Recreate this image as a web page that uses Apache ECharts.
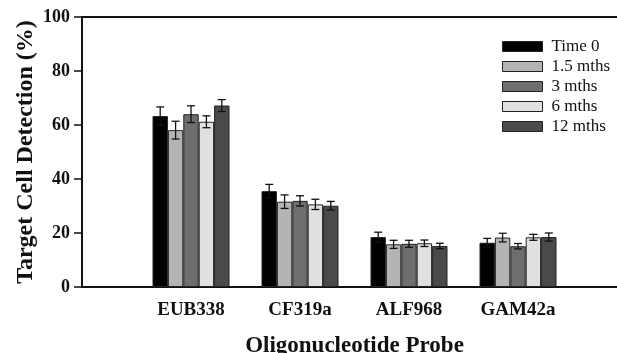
<!DOCTYPE html>
<html><head><meta charset="utf-8">
<script src="https://cdn.jsdelivr.net/npm/echarts@6/dist/echarts.min.js"></script>
<style>html,body{margin:0;padding:0;background:#fff}#c{width:617px;height:353px}</style>
</head><body><div id="c"></div>
<script>
var categories = ['', 'EUB338', 'CF319a', 'ALF968', 'GAM42a', ''];
var seriesNames = ['Time 0', '1.5 mths', '3 mths', '6 mths', '12 mths'];
var time0 = [63.3, 35.5, 18.5, 16.4];
var m1_5 = [58.1, 31.6, 15.8, 18.3];
var m3 = [64.0, 31.9, 16.0, 15.1];
var m6 = [61.2, 30.6, 16.2, 18.4];
var m12 = [67.2, 30.1, 15.2, 18.5];
var err0 = [3.4, 2.5, 1.8, 1.6];
var err1_5 = [3.3, 2.5, 1.5, 1.6];
var err3 = [3.1, 1.9, 1.3, 1.0];
var err6 = [2.2, 1.9, 1.2, 1.1];
var err12 = [2.2, 1.6, 1.0, 1.5];
var yTicks = [0, 20, 40, 60, 80, 100];

var values = [time0, m1_5, m3, m6, m12];
var errs = [err0, err1_5, err3, err6, err12];
var colors = ['#000000', '#b4b4b4', '#6e6e6e', '#e0e0e0', '#4a4a4a'];
var FONT = '"Liberation Serif", "Times New Roman", serif';
var BW = 15.4;

var series = [];
values.forEach(function (v, i) {
  series.push({
    name: seriesNames[i], type: 'bar', barWidth: BW, barGap: '0%',
    itemStyle: { color: colors[i], borderColor: '#222', borderWidth: 1 },
    data: [null].concat(v).concat([null])
  });
});
values.forEach(function (v, i) {
  var d = v.map(function (val, k) { return [k + 1, val, errs[i][k]]; });
  series.push({
    type: 'custom', name: seriesNames[i] + ' err', z: 10,
    renderItem: function (params, api) {
      var x = api.value(0), y = api.value(1), e = api.value(2);
      var top = api.coord([x, y + e]);
      var bot = api.coord([x, y - e]);
      var cx = top[0] + (i - 2) * BW;
      var cap = 4;
      var st = { stroke: '#111', lineWidth: 1.3 };
      return { type: 'group', children: [
        { type: 'line', shape: { x1: cx, y1: top[1], x2: cx, y2: bot[1] }, style: st },
        { type: 'line', shape: { x1: cx - cap, y1: top[1], x2: cx + cap, y2: top[1] }, style: st },
        { type: 'line', shape: { x1: cx - cap, y1: bot[1], x2: cx + cap, y2: bot[1] }, style: st }
      ]};
    },
    data: d
  });
});

var chart = echarts.init(document.getElementById('c'), null, { renderer: 'canvas' });
chart.setOption({
  animation: false,
  backgroundColor: '#fff',
  grid: { left: 82, top: 17, width: 545, bottom: 66, outerBoundsMode: 'none', containLabel: false,
    show: true, borderColor: '#111', borderWidth: 2, backgroundColor: 'transparent' },
  legend: {
    data: seriesNames, orient: 'vertical', left: 497, top: 33,
    itemWidth: 40, itemHeight: 10, itemGap: 3,
    icon: 'rect',
    itemStyle: { borderColor: '#222', borderWidth: 1 },
    textStyle: { fontFamily: FONT, fontSize: 17, color: '#111', padding: [0, 0, 0, 4] }
  },
  xAxis: {
    type: 'category', data: categories, boundaryGap: false,
    name: 'Oligonucleotide Probe', nameLocation: 'middle', nameGap: 48,
    nameTextStyle: { fontFamily: FONT, fontSize: 23, fontWeight: 'bold', color: '#111' },
    axisLine: { lineStyle: { color: '#111', width: 2 } },
    axisTick: { show: false },
    axisLabel: { fontFamily: FONT, fontSize: 19, fontWeight: 'bold', color: '#111', margin: 14 },
    splitLine: { show: false }
  },
  yAxis: {
    type: 'value', min: 0, max: 100, interval: 20,
    name: 'Target Cell Detection (%)', nameLocation: 'middle', nameGap: 44, nameMoveOverlap: false,
    nameTextStyle: { fontFamily: FONT, fontSize: 24, fontWeight: 'bold', color: '#111' },
    axisLine: { show: true, lineStyle: { color: '#111', width: 2 } },
    axisTick: { show: true, length: 8, lineStyle: { color: '#111', width: 1.5 } },
    axisLabel: { fontFamily: FONT, fontSize: 18, fontWeight: 'bold', color: '#111', margin: 12,
      formatter: function (v) { return yTicks.indexOf(v) >= 0 ? String(v) : ''; } },
    splitLine: { show: false }
  },
  series: series
});
</script></body></html>
